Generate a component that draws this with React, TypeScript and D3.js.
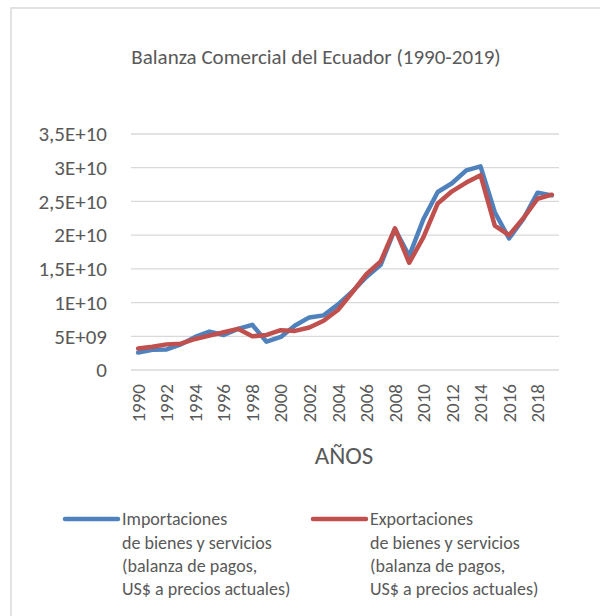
import React from 'react';
import * as d3 from 'd3';

const years = d3.range(1990, 2020);
// billions of US$
const importaciones = [2.6, 3.0, 3.05, 3.8, 4.9, 5.7, 5.2, 6.1, 6.7, 4.2, 4.9, 6.6, 7.8, 8.1, 9.7, 11.6, 13.8, 15.6, 20.9, 16.9, 22.4, 26.4, 27.7, 29.6, 30.2, 23.4, 19.5, 22.4, 26.3, 25.9];
const exportaciones = [3.2, 3.45, 3.8, 3.9, 4.6, 5.1, 5.6, 6.1, 5.0, 5.2, 5.9, 5.8, 6.3, 7.3, 8.9, 11.5, 14.2, 16.1, 21.0, 15.9, 19.7, 24.7, 26.5, 27.8, 28.9, 21.4, 20.0, 22.5, 25.4, 26.0];
const yTicks = [0, 5e9, 1e10, 1.5e10, 2e10, 2.5e10, 3e10, 3.5e10];
const yTickLabels = ['0', '5E+09', '1E+10', '1,5E+10', '2E+10', '2,5E+10', '3E+10', '3,5E+10'];
const legendLines = [
  ['Importaciones', 'de bienes y servicios', '(balanza de pagos,', 'US$ a precios actuales)'],
  ['Exportaciones', 'de bienes y servicios', '(balanza de pagos,', 'US$ a precios actuales)'],
];
const colors = ['#4f81bd', '#c0504d'];

const font = 'Carlito, Lato, sans-serif';
const textColor = '#595959';

export default function App() {
  const plot = { left: 131, right: 559, top: 134, bottom: 370 };

  const x = d3.scaleBand<number>().domain(years).range([plot.left, plot.right]);
  const y = d3.scaleLinear().domain([0, 3.5e10]).range([plot.bottom, plot.top]);
  const cx = (yr: number) => (x(yr) ?? 0) + x.bandwidth() / 2;

  const line = d3.line<number>()
    .x((_, i) => cx(years[i]))
    .y(d => y(d * 1e9));

  const series = [importaciones, exportaciones];
  const legendX = [65, 313];

  return (
    <svg width={600} height={616} style={{ position: 'absolute', left: 0, top: 0, fontFamily: font }}>
      <rect x={0} y={0} width={600} height={616} fill="#fff" />
      <rect x={11} y={8} width={640} height={660} fill="#fff" stroke="#d9d9d9" strokeWidth={1.5} />

      <text x={316} y={64} textAnchor="middle" fontSize={21} fill={textColor}>
        Balanza Comercial del Ecuador (1990-2019)
      </text>

      {yTicks.map((t, i) => (
        <g key={t}>
          <line x1={plot.left} x2={plot.right} y1={y(t)} y2={y(t)} stroke="#d9d9d9" strokeWidth={1.3} />
          <text x={107} y={y(t)} dy="0.35em" textAnchor="end" fontSize={21} fill={textColor}>
            {yTickLabels[i]}
          </text>
        </g>
      ))}

      {years.filter((_, i) => i % 2 === 0).map(yr => (
        <text
          key={yr}
          transform={`translate(${cx(yr)},${plot.bottom + 14}) rotate(-90)`}
          dy="0.35em"
          textAnchor="end"
          fontSize={19}
          fill={textColor}
        >
          {yr}
        </text>
      ))}

      <text x={344} y={464} textAnchor="middle" fontSize={25} fill={textColor}>AÑOS</text>

      {series.map((s, i) => (
        <path
          key={i}
          d={line(s) || ''}
          fill="none"
          stroke={colors[i]}
          strokeWidth={4.5}
          strokeLinejoin="round"
          strokeLinecap="round"
        />
      ))}

      {legendLines.map((lines, i) => (
        <g key={i}>
          <line x1={legendX[i]} x2={legendX[i] + 53} y1={519} y2={519} stroke={colors[i]} strokeWidth={4.5} strokeLinecap="round" />
          {lines.map((l, j) => (
            <text key={j} x={legendX[i] + 57} y={519 + j * 23.3} dy="0.35em" fontSize={18} fill={textColor}>
              {l}
            </text>
          ))}
        </g>
      ))}
    </svg>
  );
}
